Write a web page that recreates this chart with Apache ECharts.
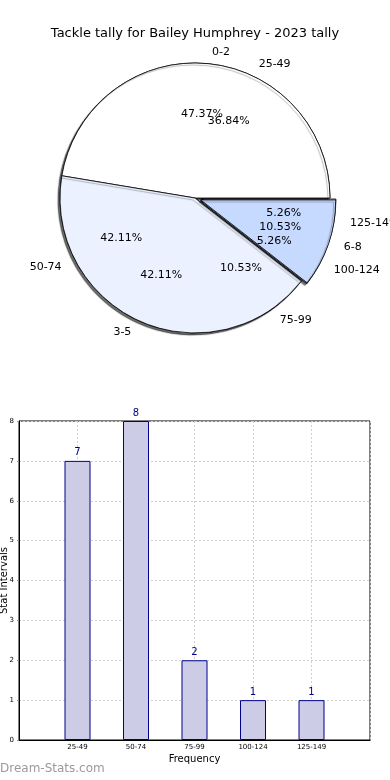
<!DOCTYPE html>
<html>
<head>
<meta charset="utf-8">
<script src="https://cdn.jsdelivr.net/npm/echarts@6/dist/echarts.min.js"></script>
<style>
html,body{margin:0;padding:0;background:#fff;}
#c{width:390px;height:780px;}
</style>
</head>
<body>
<div id="c"></div>
<script>
const titleText = 'Tackle tally for Bailey Humphrey - 2023 tally';
const pieCats1 = ['0-2', '3-5', '6-8'];
const pieVals1 = [9, 8, 2];
const pieExplode1 = [false, false, true];
const pieColors1 = ['#ffffff', '#ebf1fe', '#c6d9ff'];
const pieCats2 = ['25-49', '50-74', '75-99', '100-124', '125-149'];
const pieVals2 = [7, 8, 2, 1, 1];
const pieExplode2 = [false, false, false, true, true];
const pieColors2 = ['#ffffff', '#ebf1fe', '#ebf1fe', '#c6d9ff', '#c6d9ff'];
const barCats = ['25-49', '50-74', '75-99', '100-124', '125-149'];
const barVals = [7, 8, 2, 1, 1];
const xName = 'Frequency';
const yName = 'Stat Intervals';
const watermark = 'Dream-Stats.com';

const FONT = 'DejaVu Sans';
const R = 135;
const CENTER = [195, 198];

function pieData(cats, vals, explode, colors, transparent) {
  return cats.map((c, i) => ({
    name: c,
    value: vals[i],
    selected: explode[i],
    itemStyle: transparent ? { color: 'rgba(0,0,0,0)', borderWidth: 0, shadowBlur: 0, shadowColor: 'rgba(0,0,0,0)' } : { color: colors[i] }
  }));
}

function pctFormatter(vals) {
  const sum = vals.reduce((a, b) => a + b, 0);
  return p => (p.value / sum * 100).toFixed(2) + '%';
}

function visiblePie(cats, vals, explode, colors, z) {
  return {
    type: 'pie',
    center: CENTER,
    radius: [0, R],
    startAngle: 0,
    clockwise: false,
    z: z,
    selectedMode: 'multiple',
    selectedOffset: 6,
    avoidLabelOverlap: false,
    labelLayout: { hideOverlap: false },
    animation: false,
    emphasis: { disabled: true },
    itemStyle: {
      borderColor: '#000',
      borderWidth: 0.8,
      shadowColor: 'rgba(0,0,0,0.35)',
      shadowBlur: 1,
      shadowOffsetX: -2,
      shadowOffsetY: 2
    },
    label: {
      show: true,
      position: 'outside',
      formatter: '{b}',
      fontFamily: FONT,
      fontSize: 11,
      color: '#000'
    },
    labelLine: { show: false, length: 11, length2: 0 },
    data: pieData(cats, vals, explode, colors, false)
  };
}

function pctPie(cats, vals, explode, z) {
  return {
    type: 'pie',
    center: CENTER,
    radius: [0.2 * R, R],
    startAngle: 0,
    clockwise: false,
    z: z,
    silent: true,
    selectedMode: 'multiple',
    selectedOffset: 6,
    avoidLabelOverlap: false,
    labelLayout: { hideOverlap: false },
    animation: false,
    emphasis: { disabled: true },
    label: {
      show: true,
      position: 'inside',
      formatter: pctFormatter(vals),
      fontFamily: FONT,
      fontSize: 11,
      color: '#000'
    },
    labelLine: { show: false },
    data: pieData(cats, vals, explode, null, true)
  };
}

const chart = echarts.init(document.getElementById('c'), null, { renderer: 'canvas' });
chart.setOption({
  animation: false,
  backgroundColor: '#fff',
  title: {
    text: titleText,
    left: 'center',
    top: 22,
    textStyle: { fontFamily: FONT, fontSize: 13, fontWeight: 'normal', color: '#000' }
  },
  graphic: [{
    type: 'text',
    left: 0,
    top: 763,
    style: { text: watermark, fontFamily: FONT, fontSize: 12, fontWeight: 'normal', fill: '#9a9a9a' }
  }],
  grid: {
    left: 19, right: 20, top: 421, bottom: 40,
    containLabel: false,
    outerBoundsMode: 'none',
    show: true, borderColor: '#000', borderWidth: 1, backgroundColor: 'transparent'
  },
  xAxis: {
    type: 'value',
    min: -1, max: 5, interval: 1,
    name: xName,
    nameLocation: 'middle',
    nameGap: 14,
    nameMoveOverlap: false,
    nameTextStyle: { fontFamily: FONT, fontSize: 10, color: '#000' },
    axisLine: { show: true, onZero: false, lineStyle: { color: '#000' } },
    axisTick: { show: false },
    axisLabel: {
      fontFamily: FONT, fontSize: 7, color: '#000', margin: 4,
      formatter: v => (v >= 0 && v < barCats.length) ? barCats[v] : ''
    },
    splitLine: { show: true, lineStyle: { color: '#cfcfcf', type: [2, 2], width: 1 } }
  },
  yAxis: {
    type: 'value',
    min: 0, max: 8, interval: 1,
    name: yName,
    nameLocation: 'middle',
    nameGap: 10,
    nameMoveOverlap: false,
    nameTextStyle: { fontFamily: FONT, fontSize: 10, color: '#000' },
    axisLine: { show: true, onZero: false, lineStyle: { color: '#000' } },
    axisTick: { show: true, length: 2, lineStyle: { color: '#999' } },
    axisLabel: { fontFamily: FONT, fontSize: 7, color: '#000', margin: 5 },
    splitLine: { show: true, lineStyle: { color: '#cfcfcf', type: [2, 2], width: 1 } }
  },
  series: [
    visiblePie(pieCats2, pieVals2, pieExplode2, pieColors2, 2),
    visiblePie(pieCats1, pieVals1, pieExplode1, pieColors1, 3),
    pctPie(pieCats1, pieVals1, pieExplode1, 4),
    pctPie(pieCats2, pieVals2, pieExplode2, 5),
    {
      type: 'bar',
      barWidth: 26,
      z: 3,
      itemStyle: { color: '#cccce6', borderColor: '#00008b', borderWidth: 1 },
      label: { show: true, position: 'top', distance: 3, fontFamily: FONT, fontSize: 10, color: '#00008b' },
      labelLayout: { hideOverlap: false },
      emphasis: { disabled: true },
      data: barVals.map((v, i) => [i, v])
    }
  ]
});
</script>
</body>
</html>
